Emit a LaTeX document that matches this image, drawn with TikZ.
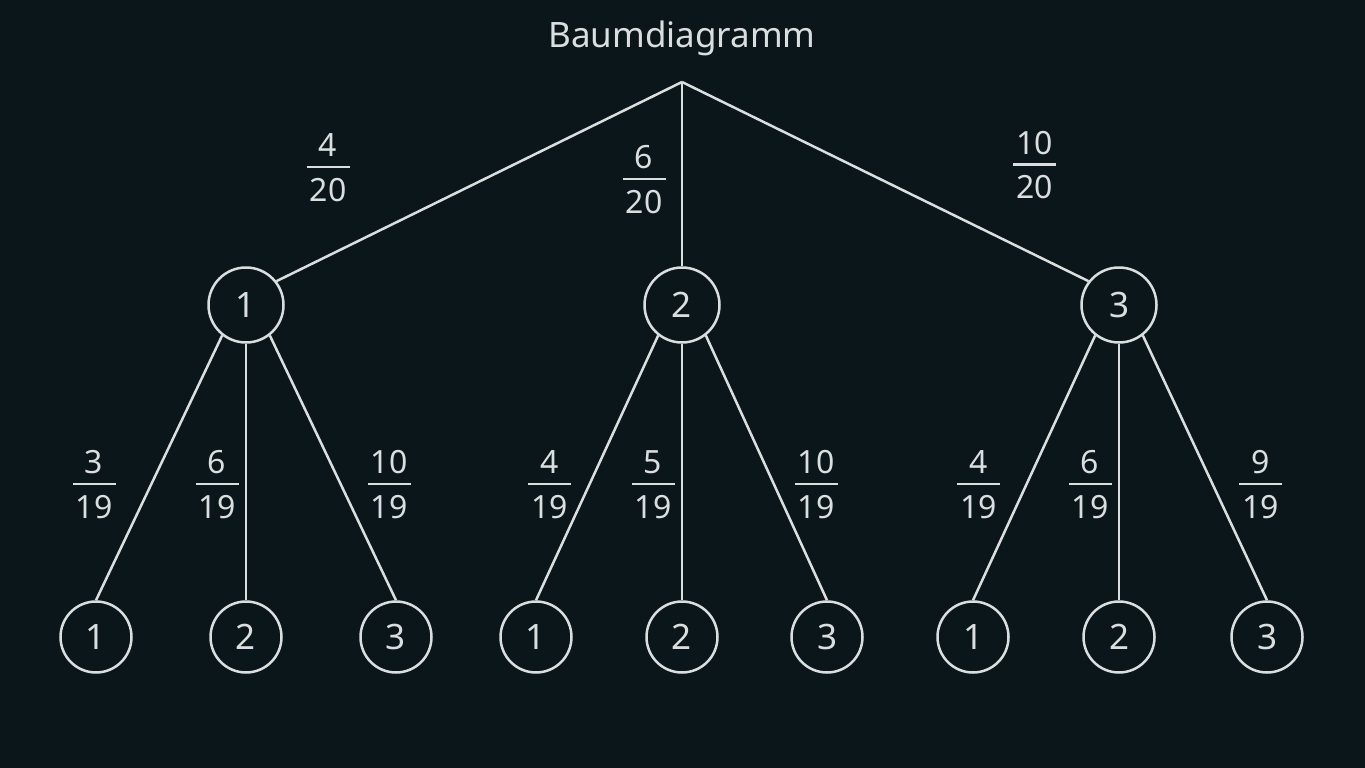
\documentclass[tikz,border=0pt]{standalone}
\usepackage{fontspec}
\setmainfont{Noto Sans}
\definecolor{bg}{RGB}{10,22,26}
\definecolor{fg}{RGB}{218,222,223}
\newcommand\fr[2]{\vbox{\offinterlineskip\halign{\hfil##\hfil\cr #1\cr\noalign{\vskip 9pt}\rule{43pt}{2.2pt}\cr\noalign{\vskip 10pt}#2\cr}}}
\tikzset{
  edge/.style={draw=fg, line width=2.5pt},
  topnode/.style={circle, draw=fg, line width=2.5pt, minimum size=75pt, inner sep=0pt, text=fg, font=\fontsize{35}{42}\selectfont},
  leafnode/.style={circle, draw=fg, line width=2.5pt, minimum size=71pt, inner sep=0pt, text=fg, font=\fontsize{35}{42}\selectfont},
  prob/.style={text=fg, inner sep=0pt, font=\fontsize{32}{38}\selectfont},
  titletext/.style={text=fg, inner sep=0pt, font=\fontsize{35}{42}\selectfont}
}
\begin{document}
\begin{tikzpicture}[x=1pt,y=1pt]
\fill[bg] (0,0) rectangle (1365,-768);
\useasboundingbox (0,0) rectangle (1365,-768);

\node[titletext, anchor=base] (title) at (682,-48) {Baumdiagramm};
\coordinate (root) at (682,-82);

\node[topnode] (a) at (246,-305) {1};
\node[topnode] (b) at (682,-305) {2};
\node[topnode] (c) at (1119,-305) {3};

\node[leafnode] (a1) at (96,-637) {1};
\node[leafnode] (a2) at (246,-637) {2};
\node[leafnode] (a3) at (396,-637) {3};
\node[leafnode] (b1) at (536,-637) {1};
\node[leafnode] (b2) at (682,-637) {2};
\node[leafnode] (b3) at (827,-637) {3};
\node[leafnode] (c1) at (973,-637) {1};
\node[leafnode] (c2) at (1119,-637) {2};
\node[leafnode] (c3) at (1267,-637) {3};

\draw[edge] (root) -- (a.38);
\draw[edge] (root) -- (b.north);
\draw[edge] (root) -- (c.142);

\foreach \p in {a,b,c}{
  \draw[edge] (\p.232) -- (\p1.north);
  \draw[edge] (\p.south) -- (\p2.north);
  \draw[edge] (\p.308) -- (\p3.north);
}

\node[prob] (pa) at (328,-167.5) {\fr{4}{20}};
\node[prob] (pb) at (644,-179.5) {\fr{6}{20}};
\node[prob] (pc) at (1034.5,-165) {\fr{10}{20}};

\node[prob] (pa1) at (94,-484.5) {\fr{3}{19}};
\node[prob] (pa2) at (217,-484.5) {\fr{6}{19}};
\node[prob] (pa3) at (389,-484.5) {\fr{10}{19}};
\node[prob] (pb1) at (549.5,-484.5) {\fr{4}{19}};
\node[prob] (pb2) at (653,-484.5) {\fr{5}{19}};
\node[prob] (pb3) at (816,-484.5) {\fr{10}{19}};
\node[prob] (pc1) at (978.5,-484.5) {\fr{4}{19}};
\node[prob] (pc2) at (1090,-484.5) {\fr{6}{19}};
\node[prob] (pc3) at (1260.5,-484.5) {\fr{9}{19}};
\end{tikzpicture}
\end{document}
